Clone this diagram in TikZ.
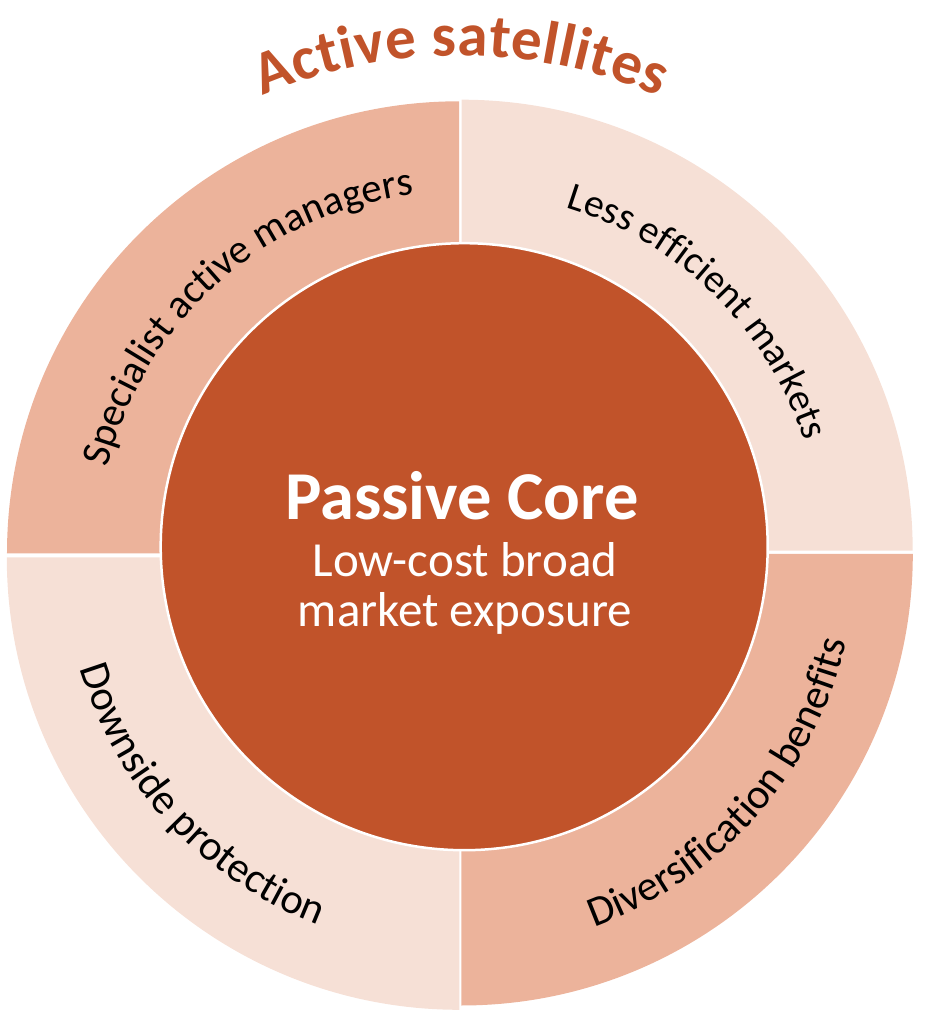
\documentclass[tikz,border=0pt]{standalone}
\usepackage{fontspec}
\setmainfont{Carlito}
\usetikzlibrary{decorations.text}
\definecolor{core}{HTML}{C1532A}
\definecolor{dark}{HTML}{ECB39B}
\definecolor{light}{HTML}{F6E0D6}
\tikzset{
  lbl/.style 2 args={decorate, decoration={text along path, text align=center,
     text={|\fontsize{#1}{#1}\selectfont|#2}}},
  corelabel/.style={text=white, anchor=base, inner sep=0pt}
}
\begin{document}
\begin{tikzpicture}[x=1pt,y=1pt]
\useasboundingbox (-460,-469.5) rectangle (487,554.5);
% quadrants
\fill[dark]  (-1,1.2)   -- ++(180:452) arc[start angle=180,end angle=90,radius=452] -- cycle;
\fill[light] (1.7,3.8)  -- ++(90:451)  arc[start angle=90,end angle=0,radius=451] -- cycle;
\fill[dark]  (1.3,0.5)  -- ++(0:451.5) arc[start angle=0,end angle=-90,radius=451.5] -- cycle;
\fill[light] (-0.7,-2.8) -- ++(-90:452.5) arc[start angle=-90,end angle=-180,radius=452.5] -- cycle;
% core
\fill[core, draw=white, line width=2.5] (4.2,7.8) circle[radius=303.5];
\node[corelabel, font=\fontsize{68.5}{68.5}\selectfont\bfseries] (t1) at (2,34.5) {Passive Core};
\node[corelabel, font=\fontsize{49}{49}\selectfont] (t2) at (5,-22.5) {Low-cost broad};
\node[corelabel, font=\fontsize{49}{49}\selectfont] (t3) at (5,-72.5) {market exposure};
% quadrant labels
\path[lbl={41}{Specialist active managers}] (181.7:363) arc[start angle=181.7,end angle=81.7,radius=363];
\path[lbl={39.5}{Less efficient markets}] (95.6:363) arc[start angle=95.6,end angle=-4.4,radius=363];
\path[lbl={42.5}{Diversification benefits}] (-91.4:396) arc[start angle=-91.4,end angle=8.6,radius=396];
\path[lbl={42.5}{Downside protection}] (172.9:397) arc[start angle=172.9,end angle=272.9,radius=397];
% title
\path[decorate, decoration={text along path, text align=fit to path,
   text color=core, text={|\fontsize{61}{61}\selectfont\bfseries|Active satellites}}]
   (113.3:499) arc[start angle=113.3,end angle=66.5,radius=499];
\end{tikzpicture}
\end{document}
